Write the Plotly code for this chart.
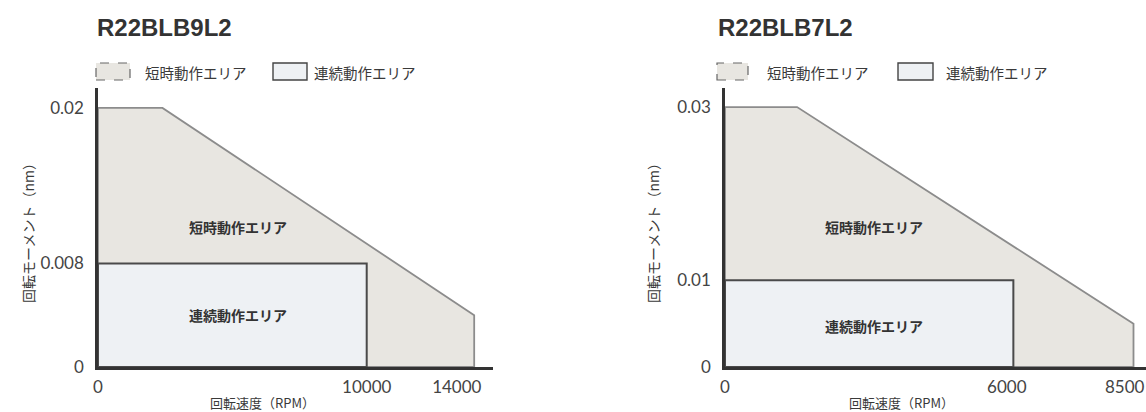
import plotly.graph_objects as go

W, H = 1146, 412

# ---- data ----
titles = ["R22BLB9L2", "R22BLB7L2"]
legend_labels = ["短時動作エリア", "連続動作エリア"]
x_title = "回転速度（RPM）"
y_title = "回転モーメント（nm）"

NB = "\u00a0"

# left chart (R22BLB9L2)
short_x_1 = [0, 0, 2400, 14000, 14000, 0]
short_y_1 = [0, 0.02, 0.02, 0.004, 0, 0]
cont_x_1 = [0, 0, 10000, 10000, 0]
cont_y_1 = [0, 0.008, 0.008, 0, 0]
xticks_1 = [0, 10000, 14000]
xticktext_1 = ["0", "10000", "14000" + NB * 8]
yticks_1 = [0, 0.008, 0.02]
yticktext_1 = ["0", "0.008", "0.02"]

# right chart (R22BLB7L2)
short_x_2 = [0, 0, 1500, 8500, 8500, 0]
short_y_2 = [0, 0.03, 0.03, 0.005, 0, 0]
cont_x_2 = [0, 0, 6000, 6000, 0]
cont_y_2 = [0, 0.01, 0.01, 0, 0]
xticks_2 = [0, 6000]
xticktext_2 = ["0", "6000" + NB * 3]
x_end_2 = 8500
x_end_text_2 = "8500"
yticks_2 = [0, 0.01, 0.03]
yticktext_2 = ["0", "0.01", "0.03"]

# ---- style ----
SHORT_FILL = "#e8e6e1"
SHORT_LINE = "#8c8c8c"
CONT_FILL = "#eef1f4"
CONT_LINE = "#4a4a4a"
AXIS_COLOR = "#333333"
TEXT_COLOR = "#3a3a3a"
TICK_FONT = dict(family="Lato, DejaVu Sans, sans-serif", size=17, color="#444444")
JP = "Noto Sans CJK JP, sans-serif"


def px(x):
    return x / W


def py(y):
    return 1 - y / H


fig = go.Figure()

for (sx, sy, cx, cy, xa, ya) in [
    (short_x_1, short_y_1, cont_x_1, cont_y_1, "x", "y"),
    (short_x_2, short_y_2, cont_x_2, cont_y_2, "x2", "y2"),
]:
    fig.add_trace(go.Scatter(x=sx, y=sy, mode="lines", fill="toself",
                             fillcolor=SHORT_FILL,
                             line=dict(color=SHORT_LINE, width=1.8),
                             xaxis=xa, yaxis=ya, showlegend=False,
                             hoverinfo="skip"))
    fig.add_trace(go.Scatter(x=cx, y=cy, mode="lines", fill="toself",
                             fillcolor=CONT_FILL,
                             line=dict(color=CONT_LINE, width=2),
                             xaxis=xa, yaxis=ya, showlegend=False,
                             hoverinfo="skip"))

y_dom = [py(367), py(88)]
common_x = dict(showgrid=False, zeroline=False, showline=True, linecolor=AXIS_COLOR,
                linewidth=2.5, ticks="", tickfont=TICK_FONT, ticklabelstandoff=3,
                fixedrange=True, automargin=False, ticklabeloverflow="allow")
common_y = dict(showgrid=False, zeroline=False, showline=True, linecolor=AXIS_COLOR,
                linewidth=2.5, ticks="", tickfont=TICK_FONT, ticklabelstandoff=8,
                fixedrange=True, automargin=False)

fig.update_layout(
    width=W, height=H,
    margin=dict(l=0, r=0, t=0, b=0, autoexpand=False),
    paper_bgcolor="white", plot_bgcolor="white",
    showlegend=False,
    xaxis=dict(domain=[px(98), px(493)], range=[0, 14700], anchor="y",
               tickvals=xticks_1, ticktext=xticktext_1, **common_x),
    yaxis=dict(domain=y_dom, range=[0, 0.02154], anchor="x",
               tickvals=yticks_1, ticktext=yticktext_1, **common_y),
    xaxis2=dict(domain=[px(725), 1.0], range=[0, 8760], anchor="y2",
                tickvals=xticks_2, ticktext=xticktext_2, **common_x),
    yaxis2=dict(domain=y_dom, range=[0, 0.0322], anchor="x2",
                tickvals=yticks_2, ticktext=yticktext_2, **common_y),
)

annotations = []
shapes = []

# end-of-axis label of the right chart (kept inside the page edge)
annotations.append(dict(text=x_end_text_2, xref="x2", yref="paper",
                        x=x_end_2, y=py(386), xanchor="center", yanchor="middle",
                        xshift=-9, showarrow=False, font=TICK_FONT))

panels = [
    dict(title=titles[0], tx=95, sw1=(96, 130), t1=143, sw2=(273, 307), t2=312,
         ytx=28, xtx=262, xa="x", ya="y", lab_x=5200, lab_y=(0.0108, 0.004)),
    dict(title=titles[1], tx=716, sw1=(717, 748), t1=765, sw2=(898, 933), t2=944,
         ytx=653, xtx=901, xa="x2", ya="y2", lab_x=3100, lab_y=(0.0162, 0.0047)),
]

for p in panels:
    annotations.append(dict(text="<b>" + p["title"] + "</b>", xref="paper", yref="paper",
                            x=px(p["tx"]), y=py(28), xanchor="left", yanchor="middle",
                            showarrow=False,
                            font=dict(family="Liberation Sans, Arial, sans-serif",
                                      size=24, color="#333333")))
    # legend swatches
    shapes.append(dict(type="rect", xref="paper", yref="paper",
                       x0=px(p["sw1"][0]), x1=px(p["sw1"][1]), y0=py(80), y1=py(63),
                       fillcolor=SHORT_FILL, line=dict(color="#666666", width=1.2, dash="dash")))
    shapes.append(dict(type="rect", xref="paper", yref="paper",
                       x0=px(p["sw2"][0]), x1=px(p["sw2"][1]), y0=py(80), y1=py(63),
                       fillcolor=CONT_FILL, line=dict(color="#444444", width=1.4)))
    annotations.append(dict(text=legend_labels[0], xref="paper", yref="paper",
                            x=px(p["t1"]), y=py(72), xanchor="left", yanchor="middle",
                            showarrow=False, font=dict(family=JP, size=14.5, color=TEXT_COLOR)))
    annotations.append(dict(text=legend_labels[1], xref="paper", yref="paper",
                            x=px(p["t2"]), y=py(72), xanchor="left", yanchor="middle",
                            showarrow=False, font=dict(family=JP, size=14.5, color=TEXT_COLOR)))
    # axis titles
    annotations.append(dict(text=y_title, xref="paper", yref="paper",
                            x=px(p["ytx"]), y=py(230), xanchor="center", yanchor="middle",
                            textangle=-90, showarrow=False,
                            font=dict(family=JP, size=14, color=TEXT_COLOR)))
    annotations.append(dict(text=x_title, xref="paper", yref="paper",
                            x=px(p["xtx"]), y=py(402), xanchor="center", yanchor="middle",
                            showarrow=False, font=dict(family=JP, size=13, color=TEXT_COLOR)))
    # area labels
    annotations.append(dict(text="<b>" + legend_labels[0] + "</b>", xref=p["xa"], yref=p["ya"],
                            x=p["lab_x"], y=p["lab_y"][0], showarrow=False,
                            font=dict(family=JP, size=14, color="#333333")))
    annotations.append(dict(text="<b>" + legend_labels[1] + "</b>", xref=p["xa"], yref=p["ya"],
                            x=p["lab_x"], y=p["lab_y"][1], showarrow=False,
                            font=dict(family=JP, size=14, color="#333333")))

fig.update_layout(annotations=annotations, shapes=shapes)

fig.write_html("out.html", config={"displayModeBar": False},
               post_script="document.body.style.margin='0px';document.body.style.overflow='hidden';")
